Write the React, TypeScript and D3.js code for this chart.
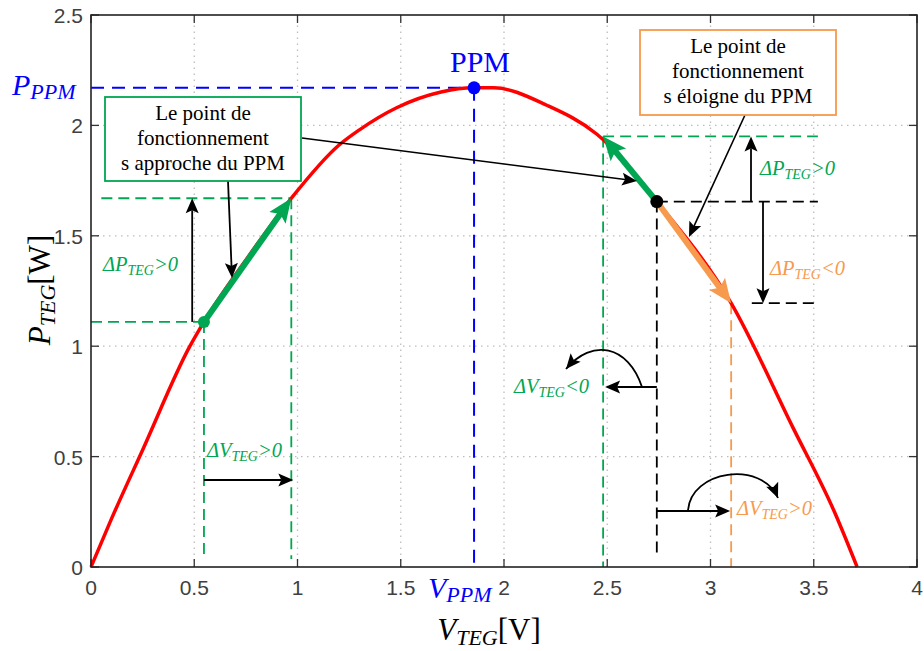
import React from "react";
import * as d3 from "d3";

// ---- data ----
const voltage = [0, 0.1, 0.25, 0.479, 0.547, 0.75, 0.97, 1.2, 1.3, 1.48, 1.69, 1.855, 1.95, 2.21, 2.45, 2.74, 3.1, 3.4, 3.6, 3.71];
const power = [0, 0.22, 0.53, 1.0, 1.11, 1.39, 1.67, 1.91, 1.98, 2.08, 2.15, 2.17, 2.17, 2.09, 1.96, 1.655, 1.195, 0.63, 0.25, 0];
const xTicks = [0, 0.5, 1, 1.5, 2, 2.5, 3, 3.5, 4];
const yTicks = [0, 0.5, 1, 1.5, 2, 2.5];
const ppm = { v: 1.855, p: 2.17 };
const approachStart = { v: 0.547, p: 1.11 };
const approachEnd = { v: 0.97, p: 1.67 };
const awayStart = { v: 2.74, p: 1.655 };
const awayGreenEnd = { v: 2.48, p: 1.95 };
const awayOrangeEnd = { v: 3.1, p: 1.195 };

const GREEN = "#00a651";
const ORANGE = "#f79a4d";
const BLUE = "#0000ff";
const RED = "#ff0000";
const SERIF = "'Liberation Serif', 'Times New Roman', serif";
const SANS = "'Liberation Sans', Arial, sans-serif";

const x = d3.scaleLinear().domain([0, 4]).range([91, 917]);
const y = d3.scaleLinear().domain([0, 2.5]).range([567, 15]);

function headPts(x1: number, y1: number, x2: number, y2: number, len: number, w: number, notch = 0.2) {
  const a = Math.atan2(y2 - y1, x2 - x1);
  const c = Math.cos(a), s = Math.sin(a);
  const bx = x2 - len * c, by = y2 - len * s;
  const nx = bx + notch * len * c, ny = by + notch * len * s;
  const px = -s * (w / 2), py = c * (w / 2);
  return {
    pts: `${x2},${y2} ${bx + px},${by + py} ${nx},${ny} ${bx - px},${by - py}`,
    nx, ny,
  };
}

function Arrow({ x1, y1, x2, y2, color = "#000", sw = 1.8, len = 15, w = 13 }: any) {
  const h = headPts(x1, y1, x2, y2, len, w);
  return (
    <g>
      <line x1={x1} y1={y1} x2={h.nx} y2={h.ny} stroke={color} strokeWidth={sw} />
      <polygon points={h.pts} fill={color} />
    </g>
  );
}

function CurvedArrow({ d, c2, end, len = 15, w = 13 }: any) {
  const h = headPts(c2[0], c2[1], end[0], end[1], len, w);
  return (
    <g>
      <path d={d} fill="none" stroke="#000" strokeWidth={1.8} />
      <polygon points={h.pts} fill="#000" />
    </g>
  );
}

function Delta({ x: tx, y: ty, letter, rest, color, size = 20.5 }: any) {
  return (
    <text x={tx} y={ty} fill={color} fontFamily={SERIF} fontStyle="italic" fontSize={size}>
      <tspan>{"Δ" + letter}</tspan>
      <tspan fontSize={size * 0.68} dy={4}>TEG</tspan>
      <tspan dy={-4}>{rest}</tspan>
    </text>
  );
}

export default function App() {
  const line = d3.line<number>().x((_, i) => x(voltage[i])).y((d) => y(d)).curve(d3.curveMonotoneX);
  const curve = line(power) || "";

  const dashG = "11,6";
  const X = (v: number) => x(v);
  const Y = (p: number) => y(p);

  return (
    <svg width={924} height={651} style={{ position: "absolute", left: 0, top: 0, background: "#fff" }}>
      <rect x={0} y={0} width={924} height={651} fill="#fff" />
      {/* grid */}
      {xTicks.slice(1, -1).map((t) => (
        <line key={"gx" + t} x1={x(t)} x2={x(t)} y1={y(0)} y2={y(2.5)} stroke="#bdbdbd" strokeWidth={1.3} strokeDasharray="1.5,4.5" />
      ))}
      {yTicks.slice(1, -1).map((t) => (
        <line key={"gy" + t} x1={x(0)} x2={x(4)} y1={y(t)} y2={y(t)} stroke="#bdbdbd" strokeWidth={1.3} strokeDasharray="1.5,4.5" />
      ))}
      {/* ticks */}
      {xTicks.map((t) => (
        <g key={"tx" + t}>
          <line x1={x(t)} x2={x(t)} y1={y(0)} y2={y(0) - 8} stroke="#333" strokeWidth={1.3} />
          <line x1={x(t)} x2={x(t)} y1={y(2.5)} y2={y(2.5) + 8} stroke="#333" strokeWidth={1.3} />
          <text x={x(t)} y={595} textAnchor="middle" fontFamily={SANS} fontSize={21} fill="#404040">{String(t)}</text>
        </g>
      ))}
      {yTicks.map((t) => (
        <g key={"ty" + t}>
          <line x1={x(0)} x2={x(0) + 8} y1={y(t)} y2={y(t)} stroke="#333" strokeWidth={1.3} />
          <line x1={x(4)} x2={x(4) - 8} y1={y(t)} y2={y(t)} stroke="#333" strokeWidth={1.3} />
          <text x={83} y={y(t) + 8} textAnchor="end" fontFamily={SANS} fontSize={21} fill="#404040">{String(t)}</text>
        </g>
      ))}

      {/* PPM dashed lines */}
      <line x1={x(0)} x2={X(ppm.v)} y1={Y(ppm.p)} y2={Y(ppm.p)} stroke={BLUE} strokeWidth={2} strokeDasharray="13,8" />
      <line x1={X(ppm.v)} x2={X(ppm.v)} y1={Y(ppm.p)} y2={y(0)} stroke={BLUE} strokeWidth={2} strokeDasharray="13,8" />

      {/* left approach dashed */}
      <line x1={x(0)} x2={X(approachStart.v)} y1={Y(approachStart.p)} y2={Y(approachStart.p)} stroke={GREEN} strokeWidth={1.8} strokeDasharray={dashG} />
      <line x1={x(0.05)} x2={X(approachEnd.v)} y1={Y(approachEnd.p)} y2={Y(approachEnd.p)} stroke={GREEN} strokeWidth={1.8} strokeDasharray={dashG} />
      <line x1={X(approachStart.v)} x2={X(approachStart.v)} y1={Y(approachStart.p)} y2={y(0) - 8} stroke={GREEN} strokeWidth={1.8} strokeDasharray={dashG} />
      <line x1={X(approachEnd.v)} x2={X(approachEnd.v)} y1={Y(approachEnd.p)} y2={y(0) - 8} stroke={GREEN} strokeWidth={1.8} strokeDasharray={dashG} />

      {/* right dashed */}
      <line x1={X(awayGreenEnd.v)} x2={x(3.52)} y1={Y(awayGreenEnd.p)} y2={Y(awayGreenEnd.p)} stroke={GREEN} strokeWidth={1.8} strokeDasharray={dashG} />
      <line x1={X(awayGreenEnd.v)} x2={X(awayGreenEnd.v)} y1={Y(awayGreenEnd.p)} y2={y(0)} stroke={GREEN} strokeWidth={1.8} strokeDasharray={dashG} />
      <line x1={X(awayStart.v)} x2={x(3.52)} y1={Y(awayStart.p)} y2={Y(awayStart.p)} stroke="#000" strokeWidth={1.8} strokeDasharray={dashG} />
      <line x1={X(awayStart.v)} x2={X(awayStart.v)} y1={Y(awayStart.p)} y2={y(0) - 10} stroke="#000" strokeWidth={1.8} strokeDasharray={dashG} />
      <line x1={x(3.2)} x2={x(3.52)} y1={Y(awayOrangeEnd.p)} y2={Y(awayOrangeEnd.p)} stroke="#000" strokeWidth={1.8} strokeDasharray={dashG} />
      <line x1={X(awayOrangeEnd.v)} x2={X(awayOrangeEnd.v)} y1={Y(awayOrangeEnd.p)} y2={y(0)} stroke={ORANGE} strokeWidth={1.8} strokeDasharray={dashG} />

      {/* curve */}
      <path d={curve} fill="none" stroke={RED} strokeWidth={3.5} strokeLinejoin="round" />

      {/* axes box */}
      <rect x={x(0)} y={y(2.5)} width={x(4) - x(0)} height={y(0) - y(2.5)} fill="none" stroke="#222" strokeWidth={1.6} />

      {/* thick arrows */}
      <Arrow x1={X(approachStart.v)} y1={Y(approachStart.p)} x2={X(approachEnd.v)} y2={Y(approachEnd.p)} color={GREEN} sw={6} len={24} w={20} />
      <Arrow x1={X(awayStart.v)} y1={Y(awayStart.p)} x2={X(awayGreenEnd.v)} y2={Y(awayGreenEnd.p)} color={GREEN} sw={6} len={24} w={20} />
      <Arrow x1={X(awayStart.v)} y1={Y(awayStart.p)} x2={X(awayOrangeEnd.v)} y2={Y(awayOrangeEnd.p)} color={ORANGE} sw={6} len={24} w={20} />

      {/* dots */}
      <circle cx={X(ppm.v)} cy={Y(ppm.p)} r={6.5} fill={BLUE} />
      <circle cx={X(approachStart.v)} cy={Y(approachStart.p)} r={6} fill={GREEN} />
      <circle cx={X(awayStart.v)} cy={Y(awayStart.p)} r={6.5} fill="#000" />

      {/* black arrows left */}
      <Arrow x1={x(0.49)} y1={Y(approachStart.p)} x2={x(0.49)} y2={Y(approachEnd.p)} />
      <Arrow x1={X(approachStart.v)} y1={480} x2={X(approachEnd.v) + 2} y2={480} />
      <Arrow x1={228} y1={181} x2={232} y2={278} />
      <Arrow x1={302} y1={138} x2={637} y2={181} sw={1.6} />

      {/* black arrows right */}
      <Arrow x1={751} y1={Y(awayStart.p)} x2={751} y2={Y(awayGreenEnd.p)} />
      <Arrow x1={763} y1={Y(awayStart.p)} x2={763} y2={Y(awayOrangeEnd.p)} />
      <Arrow x1={745} y1={115} x2={689} y2={237} sw={1.6} />
      <Arrow x1={X(awayStart.v)} y1={387} x2={X(awayGreenEnd.v) + 2} y2={387} />
      <Arrow x1={X(awayStart.v)} y1={511} x2={X(awayOrangeEnd.v) - 1} y2={511} />
      <CurvedArrow d="M642,387 C628,345 592,338 566,369" c2={[592, 338]} end={[566, 369]} />
      <CurvedArrow d="M688,511 C690,470 762,460 778,498" c2={[762, 460]} end={[778, 498]} />

      {/* boxes */}
      <rect x={105} y={97} width={196} height={84} fill="#fff" stroke={GREEN} strokeWidth={1.8} />
      <g fontFamily={SERIF} fontSize={21} textAnchor="middle" fill="#000">
        <text x={203} y={120}>Le point de</text>
        <text x={203} y={145}>fonctionnement</text>
        <text x={203} y={170}>s approche du PPM</text>
      </g>
      <rect x={640} y={30} width={196} height={85} fill="#fff" stroke={ORANGE} strokeWidth={1.8} />
      <g fontFamily={SERIF} fontSize={21} textAnchor="middle" fill="#000">
        <text x={738} y={53}>Le point de</text>
        <text x={738} y={78}>fonctionnement</text>
        <text x={738} y={103}>s éloigne du PPM</text>
      </g>

      {/* delta labels */}
      <Delta x={103} y={271} letter="P" rest=">0" color={GREEN} />
      <Delta x={207} y={457} letter="V" rest=">0" color={GREEN} />
      <Delta x={760} y={175} letter="P" rest=">0" color={GREEN} />
      <Delta x={770} y={275} letter="P" rest="<0" color={ORANGE} />
      <Delta x={514} y={393} letter="V" rest="<0" color={GREEN} />
      <Delta x={737} y={515} letter="V" rest=">0" color={ORANGE} />

      {/* PPM labels */}
      <text x={480} y={72} textAnchor="middle" fontFamily={SERIF} fontSize={30} fill={BLUE}>PPM</text>
      <text x={12} y={95} fontFamily={SERIF} fontStyle="italic" fontSize={30} fill={BLUE}>
        <tspan>P</tspan>
        <tspan fontSize={22} dy={4}>PPM</tspan>
      </text>
      <text x={428} y={598} fontFamily={SERIF} fontStyle="italic" fontSize={30} fill={BLUE}>
        <tspan>V</tspan>
        <tspan fontSize={22} dy={4}>PPM</tspan>
      </text>

      {/* axis labels */}
      <text x={489} y={640} textAnchor="middle" fontFamily={SERIF} fontSize={31} fill="#000">
        <tspan fontStyle="italic">V</tspan>
        <tspan fontStyle="italic" fontSize={22} dy={5}>TEG</tspan>
        <tspan dy={-5}>[V]</tspan>
      </text>
      <text transform="translate(50,290) rotate(-90)" textAnchor="middle" fontFamily={SERIF} fontSize={31} fill="#000">
        <tspan fontStyle="italic">P</tspan>
        <tspan fontStyle="italic" fontSize={22} dy={5}>TEG</tspan>
        <tspan dy={-5}>[W]</tspan>
      </text>
    </svg>
  );
}
